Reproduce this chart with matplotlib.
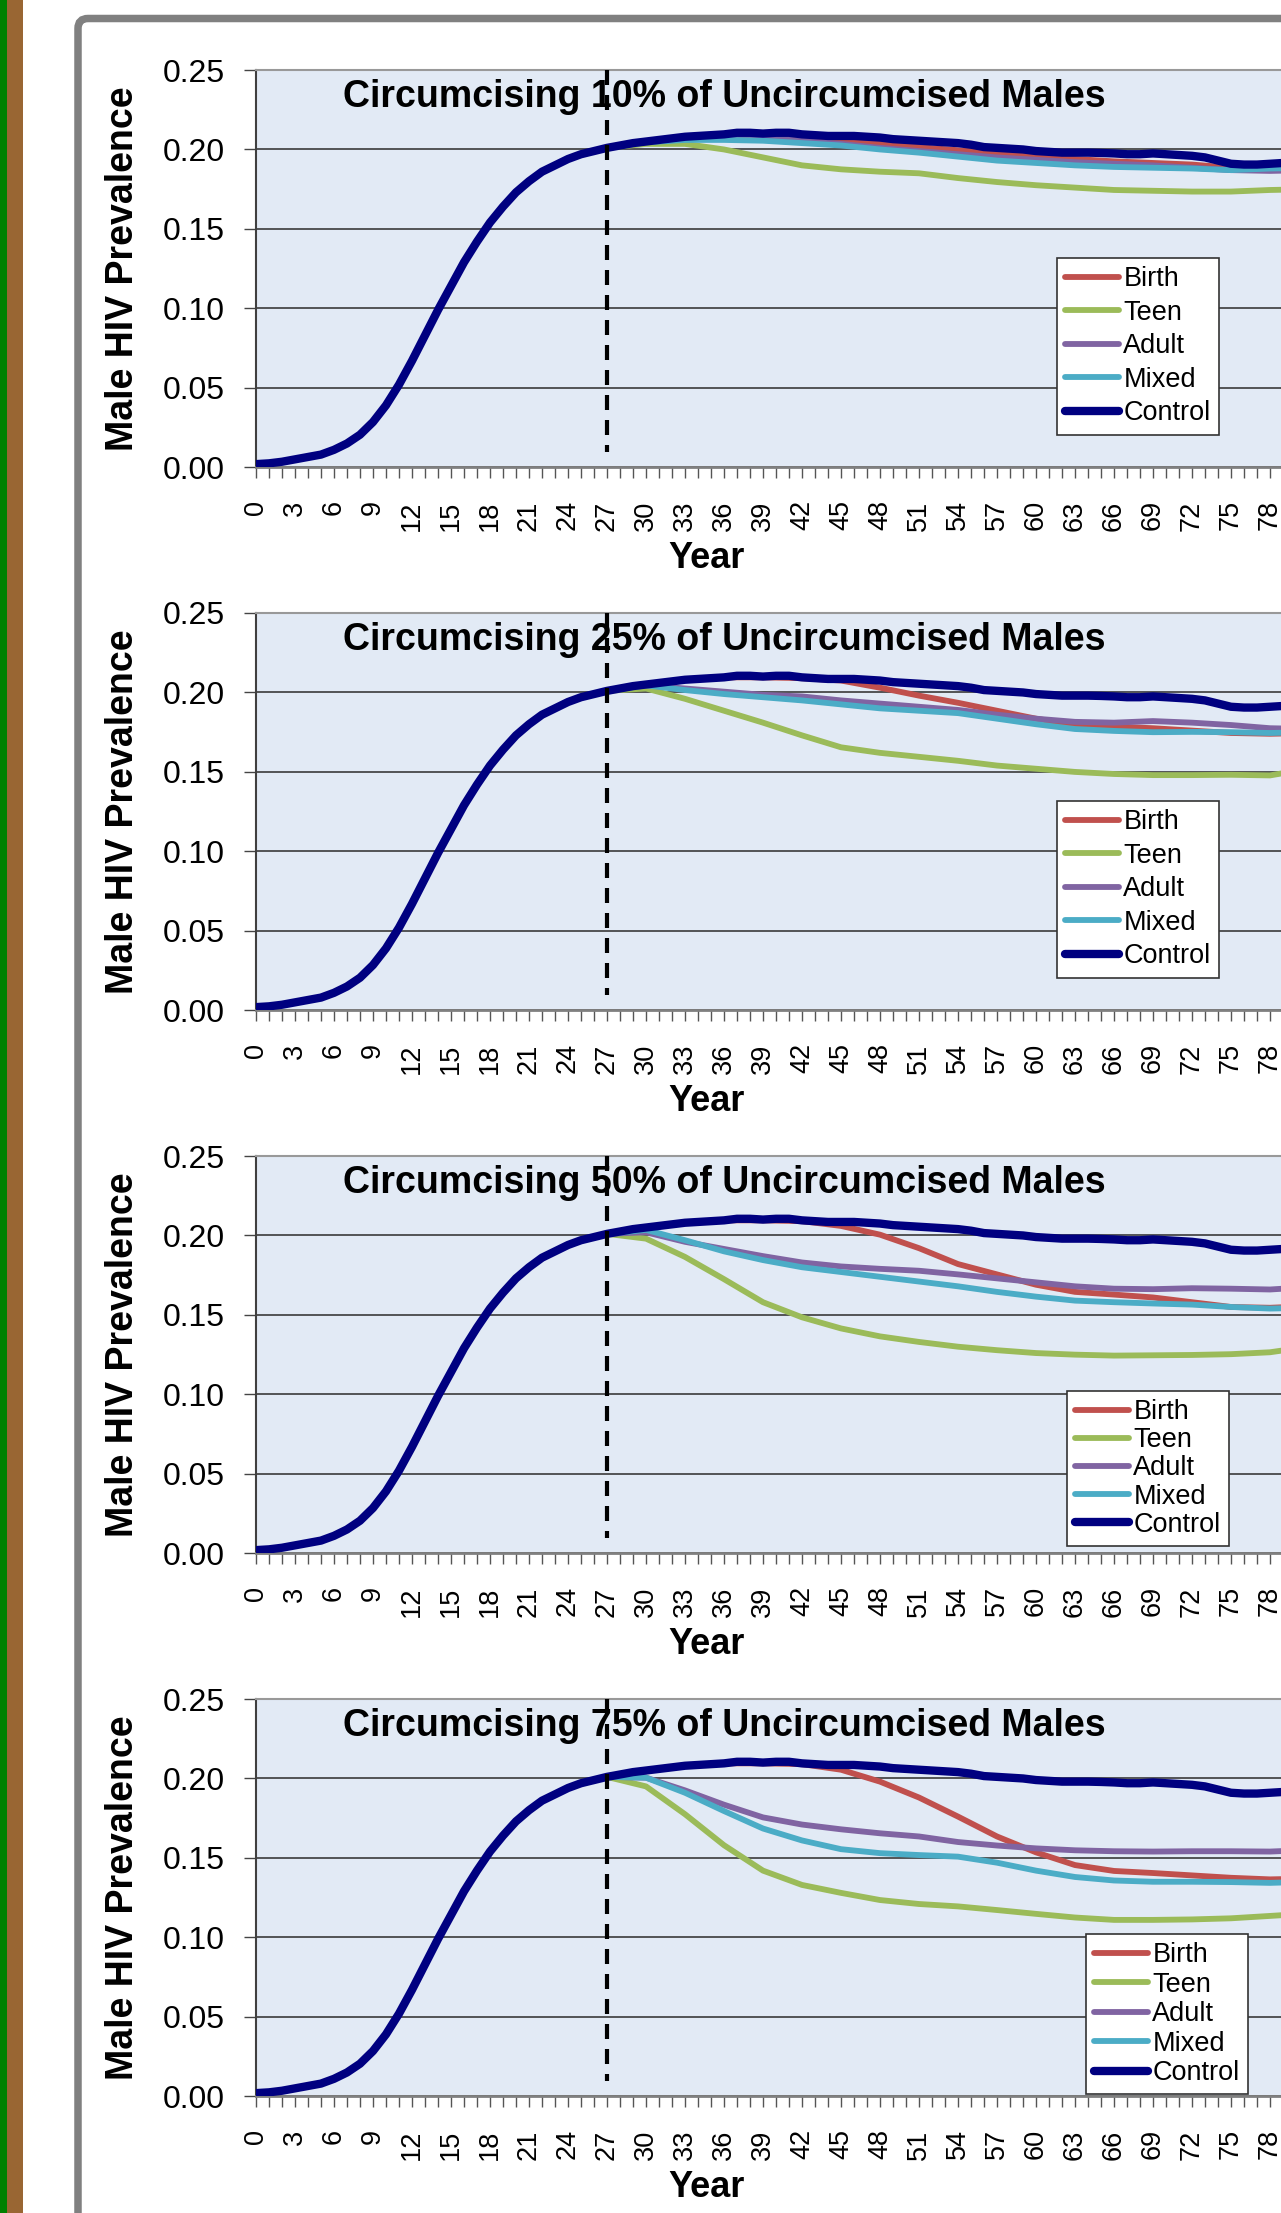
import numpy as np
import matplotlib.pyplot as plt
from matplotlib.patches import FancyBboxPatch, Rectangle
from matplotlib.transforms import IdentityTransform
from matplotlib.ticker import MultipleLocator

plt.rcParams['font.family'] = ['Liberation Sans', 'DejaVu Sans']

# ---- data ----
coverage = [10, 25, 50, 75]          # % of uncircumcised males circumcised
INTERVENTION_YEAR = 27
DIVIDER_BOTTOM = 0.0094

# control prevalence, one value per year starting at year 0
control = [0.002, 0.0025, 0.0035, 0.005, 0.0065, 0.008, 0.011, 0.015, 0.0205, 0.0285,
           0.039, 0.052, 0.067, 0.083, 0.099, 0.114, 0.129, 0.142, 0.154, 0.164,
           0.173, 0.180, 0.186, 0.190, 0.194, 0.197, 0.199, 0.201,
           0.2025, 0.204, 0.205, 0.206, 0.207, 0.208, 0.2085, 0.209, 0.2095, 0.2105,
           0.2105, 0.210, 0.2105, 0.2105, 0.2095, 0.209, 0.2085, 0.2085, 0.2085, 0.208,
           0.2075, 0.2065, 0.206, 0.2055, 0.205, 0.2045, 0.204, 0.203, 0.2015, 0.201,
           0.2005, 0.200, 0.199, 0.1985, 0.198, 0.198, 0.198, 0.1978, 0.1975, 0.197,
           0.197, 0.1975, 0.197, 0.1965, 0.196, 0.195, 0.193, 0.191, 0.1905, 0.1905,
           0.191, 0.1915, 0.192, 0.192]

# intervention scenarios, every 3 years from year 27
years_int = [27, 30, 33, 36, 39, 42, 45, 48, 51, 54, 57, 60, 63, 66, 69, 72, 75, 78, 81]

birth = [
    [0.201, 0.205, 0.208, 0.2095, 0.2095, 0.2085, 0.206, 0.204, 0.2015, 0.1995,
     0.1975, 0.1955, 0.194, 0.1925, 0.1915, 0.1905, 0.1885, 0.1875, 0.188],
    [0.201, 0.205, 0.208, 0.2095, 0.2095, 0.209, 0.2075, 0.203, 0.198, 0.1935,
     0.1885, 0.1835, 0.1795, 0.1785, 0.1775, 0.176, 0.1745, 0.174, 0.1745],
    [0.201, 0.205, 0.208, 0.2095, 0.2095, 0.209, 0.206, 0.2005, 0.192, 0.182,
     0.1755, 0.169, 0.1645, 0.1628, 0.161, 0.158, 0.155, 0.1545, 0.1555],
    [0.201, 0.205, 0.208, 0.2095, 0.2095, 0.209, 0.2055, 0.198, 0.188, 0.176,
     0.1635, 0.1535, 0.1455, 0.1418, 0.1405, 0.139, 0.1375, 0.1365, 0.137],
]
teen = [
    [0.201, 0.2035, 0.2035, 0.200, 0.195, 0.190, 0.1875, 0.186, 0.185, 0.182,
     0.1795, 0.1775, 0.176, 0.1745, 0.174, 0.1735, 0.1735, 0.1745, 0.175],
    [0.201, 0.2025, 0.196, 0.1885, 0.181, 0.173, 0.1655, 0.162, 0.1595, 0.157,
     0.154, 0.152, 0.150, 0.1487, 0.148, 0.148, 0.1482, 0.1478, 0.152],
    [0.201, 0.198, 0.1865, 0.1725, 0.158, 0.1485, 0.1415, 0.1365, 0.133, 0.130,
     0.1278, 0.126, 0.125, 0.1244, 0.1246, 0.1248, 0.1253, 0.1265, 0.130],
    [0.201, 0.195, 0.1775, 0.158, 0.142, 0.133, 0.128, 0.1235, 0.121, 0.1195,
     0.1172, 0.1148, 0.1125, 0.111, 0.111, 0.1113, 0.112, 0.1135, 0.115],
]
adult = [
    [0.201, 0.2045, 0.2065, 0.2075, 0.2075, 0.2055, 0.2035, 0.201, 0.199, 0.197,
     0.195, 0.1935, 0.192, 0.191, 0.190, 0.1885, 0.187, 0.1865, 0.187],
    [0.201, 0.2045, 0.2025, 0.2005, 0.1985, 0.1975, 0.195, 0.193, 0.191, 0.189,
     0.186, 0.1835, 0.1815, 0.181, 0.182, 0.181, 0.1795, 0.1775, 0.177],
    [0.201, 0.202, 0.196, 0.1915, 0.187, 0.183, 0.1805, 0.179, 0.1778, 0.1755,
     0.173, 0.1705, 0.168, 0.1665, 0.1662, 0.1668, 0.1665, 0.166, 0.1675],
    [0.201, 0.2005, 0.1925, 0.1835, 0.1755, 0.171, 0.168, 0.1655, 0.1635, 0.160,
     0.1578, 0.156, 0.1548, 0.1542, 0.154, 0.1542, 0.1542, 0.154, 0.155],
]
mixed = [
    [0.201, 0.2045, 0.206, 0.206, 0.2055, 0.204, 0.2025, 0.200, 0.198, 0.1955,
     0.193, 0.1915, 0.190, 0.189, 0.1885, 0.188, 0.187, 0.188, 0.1885],
    [0.201, 0.2045, 0.2015, 0.199, 0.197, 0.195, 0.1925, 0.190, 0.1885, 0.187,
     0.1835, 0.180, 0.177, 0.1758, 0.175, 0.1752, 0.175, 0.1745, 0.175],
    [0.201, 0.2035, 0.197, 0.190, 0.1845, 0.180, 0.177, 0.174, 0.171, 0.168,
     0.1645, 0.1615, 0.159, 0.158, 0.1572, 0.1565, 0.155, 0.154, 0.1545],
    [0.201, 0.2005, 0.191, 0.1795, 0.1685, 0.161, 0.1555, 0.153, 0.1518, 0.1508,
     0.147, 0.142, 0.138, 0.1358, 0.135, 0.135, 0.1348, 0.1343, 0.135],
]

scenarios = [("Birth", birth, "#C0504D"), ("Teen", teen, "#9BBB59"),
             ("Adult", adult, "#8064A2"), ("Mixed", mixed, "#4BACC6")]
CONTROL_COLOR = "#000080"

yticks = [0.00, 0.05, 0.10, 0.15, 0.20, 0.25]
xtick_years = list(range(0, 79, 3))

# ---- layout (pixels of the 1281x2213 picture) ----
W, H, DPI = 1281, 2213, 100
AX_LEFT = 256
AX_H = 397.3
PANEL_STEP = 543
PX_PER_YEAR = 13.0
XMAX = 100
LEG_X = [1057, 1057, 1067, 1086]
LEG_Y = [258, 801, 1391, 1934]
LEG_SP = [0.28, 0.28, 0.08, 0.13]


def fx(px):
    return px / W


def fy(py):
    return 1 - py / H


fig = plt.figure(figsize=(W / DPI, H / DPI), dpi=DPI)

# stripes on the left and the slide frame
fig.add_artist(Rectangle((0, 0), 7, H, transform=IdentityTransform(),
                         fc="#008000", lw=0, zorder=-2))
fig.add_artist(Rectangle((7, 0), 16, H, transform=IdentityTransform(),
                         fc="#996633", lw=0, zorder=-2))
fig.add_artist(FancyBboxPatch((78, -200), 1500, H - 18.5 + 200,
                              boxstyle="round,pad=0,rounding_size=10",
                              transform=IdentityTransform(),
                              fc="white", ec="#808080", lw=5.4, zorder=-1))

for k, pct in enumerate(coverage):
    top = 70 + k * PANEL_STEP
    ax = fig.add_axes([fx(AX_LEFT), fy(top + AX_H), PX_PER_YEAR * XMAX / W, AX_H / H])
    ax.set_facecolor("#E2EAF5")

    for name, data, col in scenarios:
        ax.plot(years_int, data[k], color=col, lw=4.2, label=name,
                solid_capstyle="round", solid_joinstyle="round", zorder=3)
    ax.plot(np.arange(len(control)), control, color=CONTROL_COLOR, lw=6,
            label="Control", solid_capstyle="round", solid_joinstyle="round", zorder=4)
    ax.plot([INTERVENTION_YEAR, INTERVENTION_YEAR], [0.25, DIVIDER_BOTTOM],
            color="black", lw=3, linestyle=(0, (3.6, 2.4)), zorder=6, clip_on=False)

    ax.set_xlim(0, XMAX)
    ax.set_ylim(0, 0.25)
    ax.set_yticks(yticks)
    ax.set_yticklabels([f"{v:.2f}" for v in yticks])
    ax.set_xticks(xtick_years)
    ax.set_xticklabels([str(v) for v in xtick_years])
    ax.xaxis.set_minor_locator(MultipleLocator(1))
    ax.tick_params(axis="x", which="both", direction="out", length=8, width=1, color="#555555")
    ax.tick_params(axis="x", which="major", labelsize=19.5, labelrotation=90, pad=15.8)
    ax.tick_params(axis="y", direction="out", length=9, width=1, color="#444444",
                   labelsize=23, pad=13.7)
    ax.grid(axis="y", color="#3a3a3a", lw=1.2)
    ax.set_axisbelow(True)
    ax.spines["right"].set_visible(False)
    ax.spines["left"].set_color("#404040")
    ax.spines["left"].set_linewidth(1.5)
    ax.spines["bottom"].set_color("#808080")
    ax.spines["bottom"].set_linewidth(2)
    ax.spines["top"].set_color("#999999")
    ax.spines["top"].set_linewidth(1.5)

    ax.text(fx(724.5), fy(106.7 + k * PANEL_STEP),
            f"Circumcising {pct}% of Uncircumcised Males",
            transform=fig.transFigure, ha="center", va="baseline",
            fontsize=27, fontweight="bold", zorder=2.5)

    leg = ax.legend(loc="upper left", bbox_to_anchor=(fx(LEG_X[k]), fy(LEG_Y[k])),
                    bbox_transform=fig.transFigure, fontsize=19.5, frameon=True,
                    fancybox=False, shadow=False, framealpha=1, edgecolor="#333333",
                    borderpad=0.3, labelspacing=LEG_SP[k], handlelength=2.0,
                    handletextpad=0.15, borderaxespad=0)
    leg.get_frame().set_linewidth(1.2)
    leg.set_zorder(7)

    fig.text(fx(123), fy(top + AX_H / 2), "Male HIV Prevalence", rotation=90,
             ha="center", va="center", fontsize=27, fontweight="bold")
    fig.text(fx(707), fy(568 + k * PANEL_STEP), "Year", ha="center", va="baseline",
             fontsize=26, fontweight="bold")

fig.savefig("out.png", dpi=DPI)
